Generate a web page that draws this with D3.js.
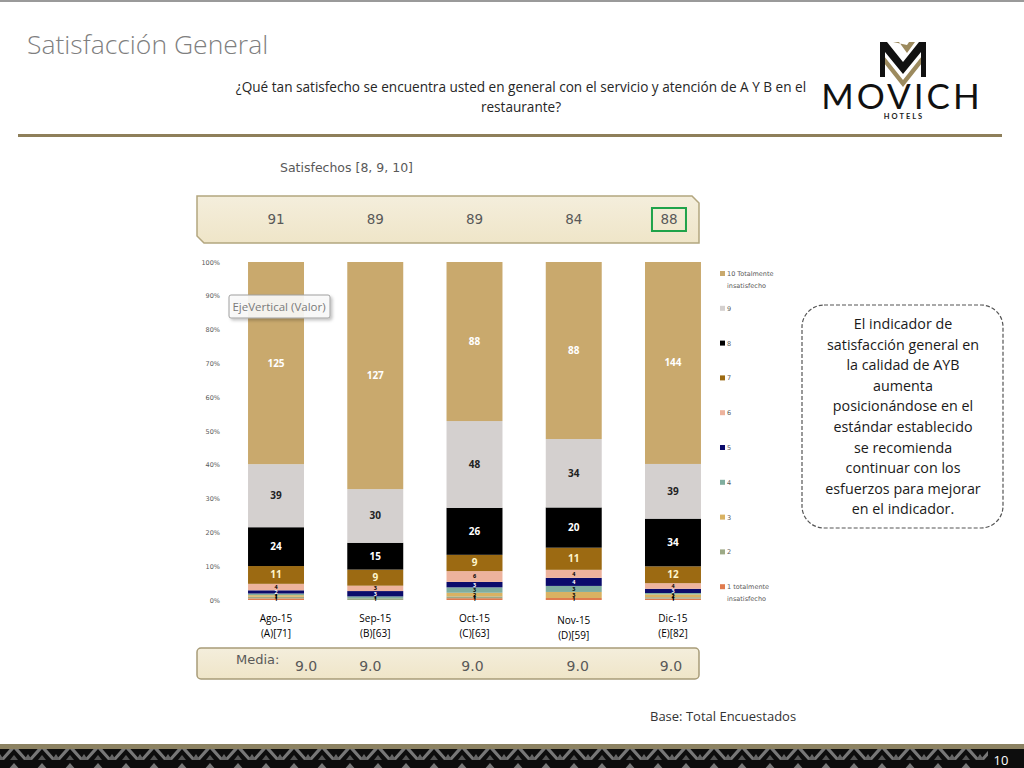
<!DOCTYPE html>
<html><head><meta charset="utf-8">
<script src="https://cdn.jsdelivr.net/npm/d3@7/dist/d3.min.js"></script>
<style>
html,body{margin:0;padding:0;background:#fff;}
svg{display:block;}
</style></head>
<body>
<svg id="c" width="1024" height="768"></svg>
<script>
// ---- data ----
const categories = ["Ago-15","Sep-15","Oct-15","Nov-15","Dic-15"];
const baseLabels = ["(A)[71]","(B)[63]","(C)[63]","(D)[59]","(E)[82]"];
const seriesNames = ["1 totalmente insatisfecho","2","3","4","5","6","7","8","9","10 Totalmente insatisfecho"];
const s1  = [1,0,1,1,1];
const s2  = [1,1,1,0,1];
const s3  = [1,0,2,3,2];
const s4  = [1,1,3,3,1];
const s5  = [2,3,3,4,3];
const s6  = [4,3,6,4,4];
const s7  = [11,9,9,11,12];
const s8  = [24,15,26,20,34];
const s9  = [39,30,48,34,39];
const s10 = [125,127,88,88,144];
const satisfechos = [91,89,89,84,88];
const media = ["9.0","9.0","9.0","9.0","9.0"];
const yTicks = [0,0.1,0.2,0.3,0.4,0.5,0.6,0.7,0.8,0.9,1.0];
const calloutLines = ["El indicador de","satisfacción general en","la calidad de AYB","aumenta","posicionándose en el","estándar establecido","se recomienda","continuar con los","esfuerzos para mejorar","en el indicador."];

const colors = ["#E07B4E","#9DAA86","#D9B262","#80AE9F","#0B0B6B","#EDB39D","#9C6A12","#000000","#D4D0CF","#C9A96D"];
const labelColors = ["#000","#000","#000","#000","#fff","#000","#FFF6CC","#fff","#222","#fff"];
const allSeries = [s1,s2,s3,s4,s5,s6,s7,s8,s9,s10];

const svg = d3.select("#c");
const FONT = "'Open Sans', 'Noto Sans', sans-serif";

// top border
svg.append("rect").attr("x",0).attr("y",0).attr("width",1024).attr("height",2).attr("fill","#9a9a9a");

// Title
svg.append("text").attr("x",27).attr("y",54).text("Satisfacción General")
  .attr("font-family",FONT).attr("font-weight",300).attr("font-size",26.5).attr("fill","#7f7f7f");

// Question
const q = svg.append("text").attr("text-anchor","middle").attr("font-family","'Open Sans', sans-serif")
  .attr("font-size",13.6).attr("fill","#262626");
q.append("tspan").attr("x",521).attr("y",92).text("¿Qué tan satisfecho se encuentra usted en general con el servicio y atención de A Y B en el");
q.append("tspan").attr("x",521).attr("y",112).text("restaurante?");

// gold rule
svg.append("rect").attr("x",18).attr("y",134).attr("width",984).attr("height",3).attr("fill","#8E7F5A");

// Logo
const logo = svg.append("g");
logo.append("path").attr("d","M884,56 L903,80 L922,56 L922,63 L903,87 L884,63 Z").attr("fill","#9C8A5E");
logo.append("path").attr("d","M880,42 L887,42 L903,62 L919,42 L926,42 L926,77 L921,77 L921,52 L903,74 L885,52 L885,77 L880,77 Z").attr("fill","#111");
logo.append("path").attr("d","M893,42 L899,42 L907,53 L915,42 L909,42 L907,45 Z").attr("fill","#9C8A5E");
logo.append("text").attr("x",902).attr("y",109).attr("text-anchor","middle").text("MOVICH")
  .attr("font-family","Lato, sans-serif").attr("font-size",35).attr("font-weight",400).attr("letter-spacing",3).attr("fill","#111");
logo.append("text").attr("x",904).attr("y",119).attr("text-anchor","middle").text("HOTELS")
  .attr("font-family","Lato, sans-serif").attr("font-size",7.5).attr("font-weight",700).attr("letter-spacing",2).attr("fill","#222");

// Satisfechos label
svg.append("text").attr("x",280).attr("y",172).text("Satisfechos [8, 9, 10]")
  .attr("font-family","'DejaVu Sans', sans-serif").attr("font-size",12.5).attr("fill","#595959");

// gradient
const defs = svg.append("defs");
const grad = defs.append("linearGradient").attr("id","band").attr("x1",0).attr("y1",0).attr("x2",0).attr("y2",1);
grad.append("stop").attr("offset","0%").attr("stop-color","#F4EEDC");
grad.append("stop").attr("offset","100%").attr("stop-color","#EFE5C8");

// top band
svg.append("path").attr("d","M197,196 L692,196 L699,203 L699,243 L204,243 L197,236 Z")
  .attr("fill","url(#band)").attr("stroke","#B3A67F").attr("stroke-width",1.5);

// bottom media band
svg.append("rect").attr("x",197).attr("y",648).attr("width",502).attr("height",31).attr("rx",4)
  .attr("fill","url(#band)").attr("stroke","#A89C78").attr("stroke-width",1.5);

// scales
const x = d3.scaleBand().domain(categories).range([226.4,722.6]).paddingInner(0.436).paddingOuter(0.218);
const y = d3.scaleLinear().domain([0,1]).range([600,262]);

// stacked data (percent)
const table = categories.map((c,i)=>{
  const row = {cat:c};
  allSeries.forEach((s,k)=>{ row["k"+k]=s[i]; });
  return row;
});
const keys = allSeries.map((s,k)=>"k"+k);
const stacked = d3.stack().keys(keys).offset(d3.stackOffsetExpand)(table);

// y axis
const yAxis = d3.axisLeft(y).tickValues(yTicks).tickFormat(d3.format(".0%")).tickSize(0).tickPadding(2);
const ya = svg.append("g").attr("transform","translate(222,0)").call(yAxis);
ya.select(".domain").remove();
ya.selectAll("text").attr("font-family","'DejaVu Sans', sans-serif").attr("font-size",6.5).attr("fill","#595959");

// bars
const layers = svg.append("g").selectAll("g").data(stacked).join("g")
  .attr("fill",(d,i)=>colors[i]);
layers.selectAll("rect").data(d=>d).join("rect")
  .attr("x",d=>x(d.data.cat)).attr("width",x.bandwidth())
  .attr("y",d=>y(d[1])).attr("height",d=>Math.max(0,y(d[0])-y(d[1])));

// labels
stacked.forEach((layer,k)=>{
  layer.forEach((d,i)=>{
    const v = allSeries[k][i];
    if(v<=0) return;
    const h = y(d[0])-y(d[1]);
    const fs = h>=12 ? 10 : 5.5;
    svg.append("text").attr("x",x(d.data.cat)+x.bandwidth()/2).attr("y",(y(d[0])+y(d[1]))/2)
      .attr("dy","0.35em").attr("text-anchor","middle").text(v)
      .attr("font-family","'Open Sans', sans-serif").attr("font-weight",700).attr("font-size",fs)
      .attr("fill",labelColors[k]);
  });
});

// category labels
categories.forEach((c,i)=>{
  const cx = x(c)+x.bandwidth()/2;
  const t = svg.append("text").attr("text-anchor","middle").attr("font-family","'Open Sans', sans-serif")
    .attr("font-size",10).attr("fill","#000");
  const dy = (i===3)?2:0;
  t.append("tspan").attr("x",cx).attr("y",622+dy).text(c);
  t.append("tspan").attr("x",cx).attr("y",637+dy).text(baseLabels[i]);
});

// satisfechos values
satisfechos.forEach((v,i)=>{
  const cx = x(categories[i])+x.bandwidth()/2 + (i===4?-4:0);
  svg.append("text").attr("x",cx).attr("y",224).attr("text-anchor","middle").text(v)
    .attr("font-family","'DejaVu Sans', sans-serif").attr("font-size",13.5).attr("fill","#595959");
});
// green highlight box
const hx = x(categories[4])+x.bandwidth()/2 - 4;
svg.append("rect").attr("x",hx-17).attr("y",208).attr("width",34).attr("height",23)
  .attr("fill","none").attr("stroke","#1FA34A").attr("stroke-width",2);

// media
svg.append("text").attr("x",236).attr("y",664).text("Media:")
  .attr("font-family","'DejaVu Sans', sans-serif").attr("font-size",13).attr("fill","#595959");
media.forEach((v,i)=>{
  const cx = x(categories[i])+x.bandwidth()/2 + (i===0?30:(i===1?-5:(i===3?4:-2)));
  svg.append("text").attr("x",cx).attr("y",671).attr("text-anchor","middle").text(v)
    .attr("font-family","'DejaVu Sans', sans-serif").attr("font-size",14).attr("fill","#595959");
});

// legend
const legendYs = d3.range(10).map(i=>274 + i*34.8);
const legendOrder = d3.range(9,-1,-1);
legendOrder.forEach((k,j)=>{
  const ly = legendYs[j];
  svg.append("rect").attr("x",720).attr("y",ly-3).attr("width",5).attr("height",5).attr("fill",colors[k]);
  const parts = seriesNames[k].split(" ");
  const t = svg.append("text").attr("font-family","'DejaVu Sans', sans-serif").attr("font-size",6.5).attr("fill","#595959");
  if(parts.length>1){
    t.append("tspan").attr("x",727).attr("y",ly+2).text(parts[0]+" "+parts[1]);
    t.append("tspan").attr("x",727).attr("y",ly+14).text(parts.slice(2).join(" "));
  } else {
    t.append("tspan").attr("x",727).attr("y",ly+2).text(parts[0]);
  }
});

// tooltip
const flt = defs.append("filter").attr("id","sh").attr("x","-10%").attr("y","-10%").attr("width","130%").attr("height","150%");
flt.append("feDropShadow").attr("dx",2).attr("dy",2).attr("stdDeviation",1.5).attr("flood-color","#000").attr("flood-opacity",0.25);
svg.append("rect").attr("x",229).attr("y",295).attr("width",101).attr("height",23).attr("rx",2)
  .attr("fill","#fbfbfb").attr("fill-opacity",0.9).attr("stroke","#a0a0a0").attr("filter","url(#sh)");
svg.append("text").attr("x",279).attr("y",311).attr("text-anchor","middle").text("EjeVertical (Valor)")
  .attr("font-family","'Open Sans', sans-serif").attr("font-size",11.5).attr("fill","#7a7a7a");

// callout
svg.append("rect").attr("x",802).attr("y",305).attr("width",201).attr("height",223).attr("rx",22)
  .attr("fill","#fff").attr("stroke","#555").attr("stroke-width",1.2).attr("stroke-dasharray","4,2");
const ct = svg.append("text").attr("text-anchor","middle").attr("font-family","'Open Sans', sans-serif")
  .attr("font-size",14.3).attr("fill","#1a1a1a");
calloutLines.forEach((l,i)=>{
  ct.append("tspan").attr("x",903).attr("y",329+i*20.6).text(l);
});

// base
svg.append("text").attr("x",650).attr("y",721).text("Base: Total Encuestados")
  .attr("font-family","'Open Sans', sans-serif").attr("font-size",13).attr("fill","#333");

// footer
svg.append("rect").attr("x",0).attr("y",744).attr("width",1024).attr("height",5).attr("fill","#8C8262");
svg.append("rect").attr("x",0).attr("y",749).attr("width",1024).attr("height",19).attr("fill","#0d0d0d");
const pat = defs.append("pattern").attr("id","tri").attr("patternUnits","userSpaceOnUse").attr("width",28).attr("height",19);
pat.append("path").attr("d","M0,19 L14,3 L28,19 L24,19 L14,8 L4,19 Z").attr("fill","#777");
pat.append("path").attr("d","M-4,19 L0,13 L4,19 Z M24,19 L28,13 L32,19 Z").attr("fill","#666");
pat.append("path").attr("d","M10,19 L14,14 L18,19 Z").attr("fill","#555");
svg.append("rect").attr("x",0).attr("y",749).attr("width",1024).attr("height",19).attr("fill","url(#tri)");
svg.append("rect").attr("x",988).attr("y",749).attr("width",36).attr("height",19).attr("fill","#0d0d0d");
svg.append("text").attr("x",1001).attr("y",765).attr("text-anchor","middle").text("10")
  .attr("font-family","'Open Sans', sans-serif").attr("font-size",13).attr("fill","#fff");
</script>
</body></html>
